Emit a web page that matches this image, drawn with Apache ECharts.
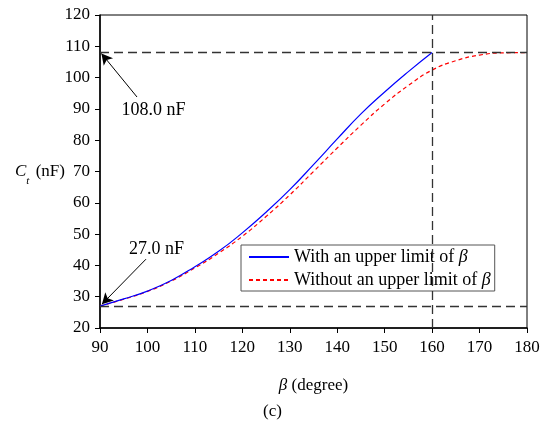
<!DOCTYPE html>
<html>
<head>
<meta charset="utf-8">
<script src="https://cdn.jsdelivr.net/npm/echarts@6/dist/echarts.min.js"></script>
<style>
  html, body { margin: 0; padding: 0; background: #fff; }
  #chart { width: 553px; height: 426px; }
</style>
</head>
<body>
<div id="chart"></div>
<script>
// Opening angle beta (degree) and the resulting capacitance C_t (nF)
const betaLimited = [90, 95, 100, 105, 110, 115, 120, 125, 130, 135, 140, 145, 150, 155, 160];
const ctLimited = [27.0, 29.3, 31.8, 35.2, 39.6, 44.5, 50.4, 57.0, 64.2, 72.2, 80.4, 88.4, 95.4, 101.9, 108.0];

const betaFree = [90, 95, 100, 105, 110, 115, 120, 125, 130, 135, 140, 145, 150, 155, 160, 165, 170, 175, 180];
const ctFree = [27.0, 29.2, 31.7, 35.0, 39.2, 43.9, 49.3, 55.6, 62.5, 70.0, 77.5, 84.8, 91.6, 97.5, 102.4, 105.4, 107.2, 107.9, 108.0];

const seriesNames = ['With an upper limit of β', 'Without an upper limit of β'];
const xTicks = [90, 100, 110, 120, 130, 140, 150, 160, 170, 180];
const yTicks = [20, 30, 40, 50, 60, 70, 80, 90, 100, 110, 120];

const cMax = 108.0;
const cMin = 27.0;
const betaLimit = 160;

const zip = (xs, ys) => xs.map((x, i) => [x, ys[i]]);
const serif = '"Liberation Serif", "DejaVu Serif", serif';

const chart = echarts.init(document.getElementById('chart'), null, { renderer: 'canvas' });

const option = {
  animation: false,
  backgroundColor: '#fff',
  textStyle: { fontFamily: serif, color: '#000' },
  grid: {
    left: 100, right: 26, top: 15, bottom: 98,
    show: true, borderColor: '#000', borderWidth: 1, backgroundColor: 'transparent'
  },
  legend: {
    data: seriesNames,
    orient: 'vertical',
    left: 241, top: 245,
    padding: [3, 4, 2, 7],
    itemWidth: 40, itemHeight: 12, itemGap: 5,
    backgroundColor: '#fff',
    borderColor: '#555', borderWidth: 1, borderRadius: 0,
    itemStyle: { color: 'rgba(0,0,0,0)', borderColor: 'rgba(0,0,0,0)', borderWidth: 0 },
    formatter: name => name.replace('β', '{i|β}'),
    textStyle: {
      fontFamily: serif, fontSize: 18, color: '#000',
      rich: { i: { fontFamily: serif, fontSize: 18, fontStyle: 'italic', color: '#000' } }
    }
  },
  xAxis: {
    type: 'value',
    min: xTicks[0], max: xTicks[xTicks.length - 1], interval: 10,
    name: '{i|β} (degree)',
    nameLocation: 'middle', nameGap: 49,
    nameTextStyle: {
      fontFamily: serif, fontSize: 17, color: '#000',
      rich: { i: { fontFamily: serif, fontSize: 17, fontStyle: 'italic', color: '#000' } }
    },
    axisLine: { show: true, lineStyle: { color: '#000', width: 1.5 } },
    axisTick: { show: true, inside: false, length: 5, lineStyle: { color: '#000', width: 1 } },
    axisLabel: { fontFamily: serif, fontSize: 17, color: '#000', margin: 11 },
    splitLine: { show: false }
  },
  yAxis: {
    type: 'value',
    min: yTicks[0], max: yTicks[yTicks.length - 1], interval: 10,
    axisLine: { show: true, lineStyle: { color: '#000', width: 1.5 } },
    axisTick: { show: true, inside: false, length: 5, lineStyle: { color: '#000', width: 1 } },
    axisLabel: { fontFamily: serif, fontSize: 17, color: '#000', margin: 10 },
    splitLine: { show: false }
  },
  series: [
    {
      name: seriesNames[1],
      type: 'line',
      smooth: true,
      symbol: 'none',
      data: zip(betaFree, ctFree),
      lineStyle: { color: '#ff0000', width: 1.2, type: [4, 3] },
      itemStyle: { color: '#ff0000' },
      z: 3,
      markLine: {
        silent: true,
        symbol: ['none', 'none'],
        label: { show: false },
        lineStyle: { color: '#333', width: 1.3, type: [9, 5] },
        data: [{ yAxis: cMax }, { yAxis: cMin }, { xAxis: betaLimit }]
      }
    },
    {
      name: seriesNames[0],
      type: 'line',
      smooth: true,
      symbol: 'none',
      data: zip(betaLimited, ctLimited),
      lineStyle: { color: '#0000ff', width: 1.2, type: 'solid' },
      itemStyle: { color: '#0000ff' },
      z: 4,
      markLine: {
        silent: true,
        symbol: ['none', 'arrow'],
        symbolSize: [9, 11],
        label: { show: false },
        lineStyle: { color: '#000', width: 1, type: 'solid' },
        data: [
          [{ coord: [97.8, 93.8] }, { coord: [90.3, 107.7] }],
          [{ coord: [99.7, 42.0] }, { coord: [90.4, 27.6] }]
        ]
      },
      markPoint: {
        silent: true,
        symbol: 'circle',
        symbolSize: 1,
        itemStyle: { color: 'rgba(0,0,0,0)' },
        label: {
          show: true, position: 'inside',
          fontFamily: serif, fontSize: 18, color: '#000',
          formatter: p => p.name
        },
        data: [
          { name: cMax.toFixed(1) + ' nF', coord: [101.3, 89.6] },
          { name: cMin.toFixed(1) + ' nF', coord: [101.9, 45.2] }
        ]
      }
    }
  ],
  graphic: [
    {
      // y-axis title: C_t (nF)
      type: 'text',
      left: 15, top: 163,
      style: {
        text: '{i|C}{s|t}{n| (nF)}',
        fill: '#000',
        rich: {
          i: { fontFamily: serif, fontSize: 17, fontStyle: 'italic', fill: '#000' },
          s: { fontFamily: serif, fontSize: 11, fontStyle: 'italic', fill: '#000', padding: [19, 2, 0, 0] },
          n: { fontFamily: serif, fontSize: 17, fill: '#000' }
        }
      }
    },
    {
      type: 'text',
      left: 263, top: 403,
      style: { text: '(c)', font: '17px ' + serif, fill: '#000' }
    }
  ]
};

chart.setOption(option);
</script>
</body>
</html>
